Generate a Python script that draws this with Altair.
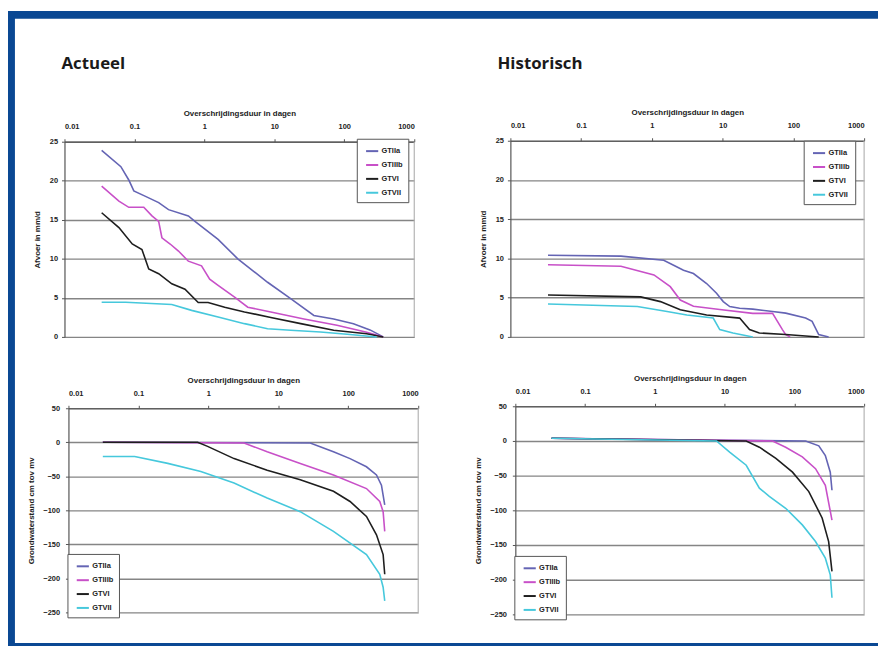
import altair as alt
import pandas as pd

SERIES = ["GTIIa", "GTIIIb", "GTVI", "GTVII"]
COLORS = ["#6464b4", "#c850c8", "#1e1e1e", "#46c8dc"]
X_TICKS = [0.01, 0.1, 1, 10, 100, 1000]
Y_TICKS_AFVOER = [0, 5, 10, 15, 20, 25]
Y_TICKS_GW = [-250, -200, -150, -100, -50, 0, 50]
X_TITLE = "Overschrijdingsduur in dagen"
Y_TITLE_AFVOER = "Afvoer in mm/d"
Y_TITLE_GW = "Grondwaterstand cm tov mv"

# Actueel - afvoer (days, mm/d)
act_afvoer = {
    "GTIIa": ([0.034, 0.064, 0.083, 0.098, 0.144, 0.222, 0.307, 0.59, 0.733, 1.57, 3.0, 8.0, 17.1, 36.7, 70.5, 135, 233, 360],
              [23.9, 21.8, 20.1, 18.7, 18.0, 17.2, 16.3, 15.5, 14.8, 12.5, 10.0, 7.0, 4.9, 2.75, 2.3, 1.7, 0.9, 0]),
    "GTIIIb": ([0.034, 0.060, 0.083, 0.136, 0.178, 0.222, 0.247, 0.324, 0.426, 0.59, 0.91, 1.19, 1.57, 2.7, 4.17, 8.9, 26.5, 78.5, 209, 360],
               [19.3, 17.4, 16.6, 16.6, 15.5, 14.8, 12.7, 11.9, 11.0, 9.7, 9.1, 7.4, 6.6, 5.1, 3.8, 3.2, 2.3, 1.5, 0.6, 0]),
    "GTVI": ([0.034, 0.060, 0.093, 0.128, 0.16, 0.222, 0.342, 0.528, 0.816, 1.13, 1.95, 3.74, 8.9, 23.8, 70.5, 209, 360],
             [15.9, 14.0, 11.9, 11.2, 8.7, 8.1, 6.8, 6.1, 4.4, 4.4, 3.8, 3.2, 2.5, 1.7, 0.85, 0.4, 0]),
    "GTVII": ([0.034, 0.075, 0.342, 0.657, 1.57, 3.74, 8.0, 17.1, 45.6, 121, 290],
              [4.45, 4.45, 4.15, 3.4, 2.55, 1.7, 1.05, 0.85, 0.64, 0.3, 0]),
}

# Historisch - afvoer
hist_afvoer = {
    "GTIIa": ([0.034, 0.365, 1.47, 2.03, 2.8, 3.87, 5.94, 8.2, 10.2, 12.6, 17.4, 26.7, 50.8, 78, 149, 184, 228, 315],
              [10.4, 10.3, 9.76, 9.13, 8.5, 8.08, 6.8, 5.56, 4.5, 3.87, 3.66, 3.54, 3.24, 3.03, 2.4, 1.98, 0.3, 0]),
    "GTIIIb": ([0.034, 0.365, 1.07, 1.82, 2.52, 3.87, 9.1, 26.7, 50.8, 70, 78, 90],
               [9.2, 9.0, 7.9, 6.4, 4.7, 3.9, 3.5, 3.0, 3.0, 0.93, 0.3, 0]),
    "GTVI": ([0.034, 0.695, 1.32, 2.52, 5.94, 17.4, 24, 33, 78, 228],
             [5.35, 5.1, 4.5, 3.45, 2.8, 2.4, 0.93, 0.5, 0.3, 0]),
    "GTVII": ([0.034, 0.624, 1.64, 3.12, 7.36, 9.1, 14.0, 26.7],
              [4.2, 3.87, 3.24, 2.8, 2.4, 0.93, 0.5, 0]),
}

# Actueel - grondwaterstand (days, cm t.o.v. mv)
act_gw = {
    "GTIIa": ([0.031, 28.6, 61.4, 106, 182, 253, 298, 332],
              [0, -1, -14, -24, -36, -48, -63, -92]),
    "GTIIIb": ([0.031, 3.24, 6.93, 20.6, 61.4, 182, 282, 315, 332],
               [0, -1, -14, -31, -48, -68, -87, -102, -131]),
    "GTVI": ([0.031, 0.703, 0.975, 2.33, 6.93, 20.6, 61.4, 106, 182, 253, 315, 332],
             [0, 0, -6, -24, -41, -55, -72, -87, -109, -136, -165, -194]),
    "GTVII": ([0.031, 0.0885, 0.263, 0.78, 2.33, 6.93, 20.6, 61.4, 182, 282, 315, 332],
              [-21, -21, -31, -43, -60, -82, -102, -131, -165, -194, -213, -233]),
}

# Historisch - grondwaterstand
hist_gw = {
    "GTIIa": ([0.033, 8.5, 145, 224, 278, 327, 346],
              [4, 1, 0, -7, -21, -45, -71]),
    "GTIIIb": ([0.033, 48.7, 75, 130, 201, 278, 346],
               [4, 0, -9, -23, -40, -64, -114]),
    "GTVI": ([0.033, 20.4, 31.5, 54.3, 94, 161, 250, 310, 346],
             [4, 0, -9, -25, -45, -73, -111, -145, -188]),
    "GTVII": ([0.033, 7.65, 11.8, 20.4, 31.5, 43.7, 75, 130, 201, 278, 327, 346],
              [4, 0, -16, -35, -68, -80, -97, -121, -145, -169, -193, -226]),
}

W, H = 878, 641
BLUE = "#0a4893"
FONT = "Liberation Sans"


def to_frame(data):
    rows = []
    for s, (ds, vs) in data.items():
        for d, v in zip(ds, vs):
            rows.append({"serie": s, "d": d, "v": v})
    return pd.DataFrame(rows)


def panel(data, xr, yr, ydom, yticks, ytitle, leg, ylabpad, ytitlepad):
    df = to_frame(data)
    xscale = alt.Scale(type="log", domain=[0.01, 1000], range=xr)
    yscale = alt.Scale(domain=ydom, range=yr, nice=False, zero=False)
    xaxis = alt.Axis(orient="top", offset=-yr[1], values=X_TICKS, format="~g", grid=False,
                     title=X_TITLE, tickSize=3, labelPadding=8, titlePadding=5,
                     labelFontSize=7.5, titleFontSize=8)
    yaxis = alt.Axis(orient="left", offset=-xr[0], values=yticks, grid=True, title=ytitle,
                     tickSize=3, labelPadding=ylabpad, titlePadding=ytitlepad,
                     labelFontSize=7.5, titleFontSize=8)
    lines = alt.Chart(df).mark_line(strokeWidth=1.6).encode(
        x=alt.X("d:Q", scale=xscale, axis=xaxis),
        y=alt.Y("v:Q", scale=yscale, axis=yaxis),
        color=alt.Color("serie:N", scale=alt.Scale(domain=SERIES, range=COLORS),
                        legend=alt.Legend(orient="none", legendX=leg[0], legendY=leg[1], title=None,
                                          symbolType="stroke", symbolStrokeWidth=2, symbolSize=150,
                                          labelFontSize=7.5, labelFont=FONT, labelFontWeight="bold",
                                          labelColor="#222222",
                                          strokeColor="#555555", fillColor="white", padding=5,
                                          rowPadding=2, labelOffset=2, labelLimit=60, symbolOffset=3)),
    )
    edge = alt.Chart(pd.DataFrame({"d": [1000], "v": [ydom[0]], "v2": [ydom[1]]})).mark_rule(
        color="#b4b4b4", strokeWidth=1.2
    ).encode(x=alt.X("d:Q"), y=alt.Y("v:Q"), y2="v2:Q")
    return alt.layer(lines, edge)


tl = panel(act_afvoer, [57, 410], [329, 132], [0, 25], Y_TICKS_AFVOER, Y_TITLE_AFVOER, (352, 129), 4, 8)
tr = panel(hist_afvoer, [507, 864], [329, 131], [0, 25], Y_TICKS_AFVOER, Y_TITLE_AFVOER, (803, 131), 4, 8)
bl = panel(act_gw, [61, 414], [607, 401], [-250, 50], Y_TICKS_GW, Y_TITLE_GW, (60, 548), 6, 7)
br = panel(hist_gw, [512, 864], [609, 399], [-250, 50], Y_TICKS_GW, Y_TITLE_GW, (511, 550), 6, 7)

one = pd.DataFrame({"k": [0]})


def bar(x0, x1, y0, y1):
    return alt.Chart(one).mark_rect(color=BLUE).encode(
        x=alt.value(x0), x2=alt.value(x1), y=alt.value(y0), y2=alt.value(y1)
    )


def heading(txt, x, y):
    return alt.Chart(pd.DataFrame({"t": [txt]})).mark_text(
        align="left", baseline="middle", fontSize=17, fontWeight="bold", font="Open Sans", color="#1a1a1a"
    ).encode(x=alt.value(x), y=alt.value(y), text="t:N")


chart = alt.layer(
    bar(0, W, 0, 8), bar(0, 7, 0, H), bar(0, W, H - 3, H),
    heading("Actueel", 54, 54), heading("Historisch", 494, 54),
    tl, tr, bl, br,
).resolve_scale(
    x="independent", y="independent", color="independent"
).resolve_axis(
    x="independent", y="independent"
).resolve_legend(
    color="independent"
).properties(
    width=W, height=H, autosize=alt.AutoSizeParams(type="none"), padding=0, background="white"
).configure_view(
    stroke=None
).configure_axis(
    labelFont=FONT, titleFont=FONT, labelFontWeight="bold", titleFontWeight="bold",
    labelColor="#222222", titleColor="#222222", domainColor="#555555", tickColor="#555555",
    gridColor="#858585", gridWidth=1.4, domainWidth=1.2
)

chart.save("out.html", embed_options={"renderer": "svg", "actions": False})
